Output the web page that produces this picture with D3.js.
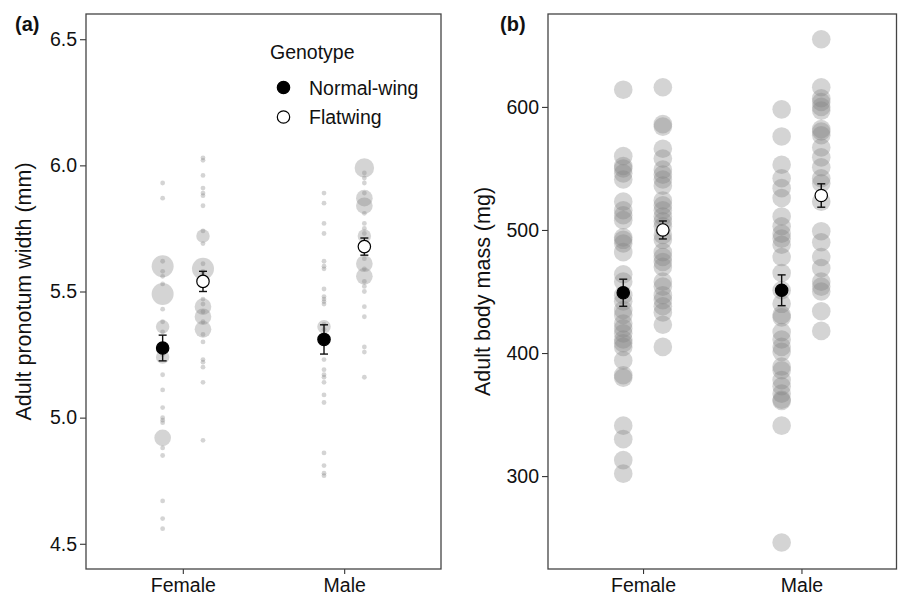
<!DOCTYPE html>
<html>
<head>
<meta charset="utf-8">
<script src="https://cdn.jsdelivr.net/npm/d3@7"></script>
<style>
  html, body { margin: 0; padding: 0; background: #fff; }
  svg { display: block; font-family: "Liberation Sans", Arial, sans-serif; }
</style>
</head>
<body>
<svg id="chart" width="898" height="597"></svg>
<script>
// ---------- data ----------
const categories = ["Female", "Male"];
const genotypes = ["Normal-wing", "Flatwing"];

// Panel (a): adult pronotum width (mm); repeated values = overlapping individuals
const pronotumFemaleNormal = [5.93, 5.87, 5.62, 5.60, 5.60, 5.60, 5.60, 5.60, 5.60, 5.58, 5.56, 5.53,
  5.49, 5.49, 5.49, 5.49, 5.49, 5.49, 5.43, 5.38, 5.36, 5.36, 5.36, 5.34, 5.25, 5.24, 5.24, 5.24,
  5.17, 5.11, 5.04, 5.00, 4.99, 4.98, 4.92, 4.92, 4.92, 4.92, 4.88, 4.85, 4.67, 4.60, 4.56];
const pronotumFemaleFlat = [6.03, 6.02, 5.96, 5.91, 5.89, 5.88, 5.84, 5.74, 5.72, 5.72, 5.72, 5.69,
  5.61, 5.59, 5.59, 5.59, 5.59, 5.59, 5.59, 5.58, 5.57, 5.47, 5.45, 5.44, 5.44, 5.44, 5.44, 5.42,
  5.40, 5.40, 5.40, 5.40, 5.38, 5.35, 5.35, 5.35, 5.35, 5.33, 5.30, 5.23, 5.22, 5.20, 5.14, 4.91];
const pronotumMaleNormal = [5.89, 5.85, 5.77, 5.73, 5.62, 5.60, 5.59, 5.51, 5.48, 5.47, 5.46, 5.45,
  5.37, 5.36, 5.36, 5.36, 5.35, 5.23, 5.19, 5.17, 5.16, 5.14, 5.09, 5.06, 4.86, 4.81, 4.78, 4.77];
const pronotumMaleFlat = [5.99, 5.99, 5.99, 5.99, 5.99, 5.97, 5.95, 5.93, 5.89, 5.87, 5.87, 5.87, 5.87,
  5.84, 5.84, 5.84, 5.84, 5.81, 5.77, 5.75, 5.73, 5.72, 5.72, 5.72, 5.63, 5.61, 5.61, 5.61, 5.61,
  5.59, 5.56, 5.56, 5.56, 5.56, 5.54, 5.52, 5.50, 5.44, 5.40, 5.28, 5.26, 5.16];
// means and standard errors: Female NW, Female FW, Male NW, Male FW
const pronotumMeans = [5.276, 5.540, 5.310, 5.678];
const pronotumSE = [0.051, 0.040, 0.058, 0.034];

// Panel (b): adult body mass (mg)
const massFemaleNormal = [614, 560, 552, 550, 546, 541, 523, 516, 512, 508, 494, 492, 489, 482, 464,
  458, 447, 442, 435, 431, 424, 420, 416, 411, 408, 405, 394, 382, 380, 341, 330, 313, 302];
const massFemaleFlat = [616, 586, 584, 566, 558, 549, 545, 541, 536, 524, 520, 516, 511, 507, 503,
  496, 492, 482, 478, 474, 470, 458, 454, 447, 443, 438, 433, 423, 405];
const massMaleNormal = [598, 576, 553, 542, 534, 526, 511, 503, 497, 493, 488, 478, 465, 451, 440,
  431, 429, 417, 411, 405, 401, 389, 386, 378, 373, 367, 362, 361, 341, 246];
const massMaleFlat = [655, 616, 607, 604, 600, 597, 582, 580, 577, 567, 559, 551, 542, 538, 523,
  499, 490, 478, 469, 458, 454, 450, 434, 418];
const massMeans = [449, 500, 451, 528];
const massSE = [11, 7.3, 12.5, 9.5];

// tick labels
const pronotumTicks = [4.5, 5.0, 5.5, 6.0, 6.5];
const massTicks = [300, 400, 500, 600];

// ---------- drawing ----------
const svg = d3.select("#chart");
const groupKeys = [["Female", "Normal-wing"], ["Female", "Flatwing"], ["Male", "Normal-wing"], ["Male", "Flatwing"]];

function panel(opts) {
  const { left, right, top, bottom, domain, ticks, fmt, raw, means, se, sized, title, tag, titleX, tagX } = opts;
  const g = svg.append("g");
  const x = d3.scalePoint().domain(categories).range([left, right]).padding(0.6);
  const dodge = d3.scalePoint().domain(genotypes).range([-0.125 * x.step(), 0.125 * x.step()]);
  const y = d3.scaleLinear().domain(domain).range([bottom, top]);

  // raw points
  const rScale = d3.scaleSqrt().domain([1, 6]).range([2.4, 11]);
  raw.forEach((vals, i) => {
    const [cat, gen] = groupKeys[i];
    const cx = x(cat) + dodge(gen);
    let pts;
    if (sized) {
      pts = d3.rollups(vals, v => v.length, d => d).map(([v, n]) => ({ v, n }));
      pts.sort((a, b) => b.n - a.n);
    } else {
      pts = vals.map(v => ({ v, n: 1 }));
    }
    g.append("g").selectAll("circle").data(pts).join("circle")
      .attr("cx", cx)
      .attr("cy", d => y(d.v))
      .attr("r", d => sized ? rScale(d.n) : 9.3)
      .attr("fill", "#808080")
      .attr("fill-opacity", 0.34);
  });

  // error bars + means
  const summary = means.map((m, i) => ({ cat: groupKeys[i][0], gen: groupKeys[i][1], m, se: se[i] }));
  const eb = g.append("g").attr("stroke", "#111").attr("stroke-width", 1.4).attr("fill", "none");
  summary.forEach(d => {
    const cx = x(d.cat) + dodge(d.gen);
    eb.append("line").attr("x1", cx).attr("x2", cx).attr("y1", y(d.m - d.se)).attr("y2", y(d.m + d.se));
    eb.append("line").attr("x1", cx - 4).attr("x2", cx + 4).attr("y1", y(d.m - d.se)).attr("y2", y(d.m - d.se));
    eb.append("line").attr("x1", cx - 4).attr("x2", cx + 4).attr("y1", y(d.m + d.se)).attr("y2", y(d.m + d.se));
  });
  g.append("g").selectAll("circle").data(summary).join("circle")
    .attr("cx", d => x(d.cat) + dodge(d.gen))
    .attr("cy", d => y(d.m))
    .attr("r", 6.2)
    .attr("fill", d => d.gen === "Normal-wing" ? "#000" : "#fff")
    .attr("stroke", "#000")
    .attr("stroke-width", 1.2);

  // axes
  const ya = g.append("g").attr("transform", `translate(${left},0)`)
    .call(d3.axisLeft(y).tickValues(ticks).tickFormat(fmt).tickSize(6).tickPadding(3));
  const xa = g.append("g").attr("transform", `translate(0,${bottom})`)
    .call(d3.axisBottom(x).tickSize(5).tickPadding(5));
  [ya, xa].forEach(a => {
    a.select(".domain").remove();
    a.selectAll(".tick line").attr("stroke", "#333").attr("stroke-width", 1.1);
    a.selectAll(".tick text").attr("fill", "#111").style("font-size", "19.5px")
      .style("font-family", "'Liberation Sans', Arial, sans-serif");
  });
  xa.selectAll(".tick text").attr("dy", "0.66em");

  // border
  g.append("rect").attr("x", left).attr("y", top).attr("width", right - left).attr("height", bottom - top)
    .attr("fill", "none").attr("stroke", "#444").attr("stroke-width", 1.3);

  // axis title
  g.append("text")
    .attr("transform", `translate(${titleX},${(top + bottom) / 2}) rotate(-90)`)
    .attr("text-anchor", "middle")
    .style("font-size", "21.5px").attr("fill", "#111")
    .text(title);
  // panel tag
  g.append("text").attr("x", tagX).attr("y", 31)
    .style("font-size", "20px").style("font-weight", "bold").attr("fill", "#111")
    .text(tag);
  return g;
}

const gA = panel({
  left: 86, right: 441, top: 14, bottom: 569, domain: [4.4, 6.6], ticks: pronotumTicks,
  fmt: d3.format(".1f"),
  raw: [pronotumFemaleNormal, pronotumFemaleFlat, pronotumMaleNormal, pronotumMaleFlat],
  means: pronotumMeans, se: pronotumSE, sized: true,
  title: "Adult pronotum width (mm)", tag: "(a)", titleX: 31, tagX: 15
});
panel({
  left: 548, right: 896.5, top: 14, bottom: 569, domain: [224.5, 675.5], ticks: massTicks,
  fmt: d3.format("d"),
  raw: [massFemaleNormal, massFemaleFlat, massMaleNormal, massMaleFlat],
  means: massMeans, se: massSE, sized: false,
  title: "Adult body mass (mg)", tag: "(b)", titleX: 490, tagX: 500
});

// legend (panel a)
const leg = gA.append("g");
leg.append("text").attr("x", 270).attr("y", 59).style("font-size", "19.5px").attr("fill", "#111").text("Genotype");
genotypes.forEach((gname, i) => {
  const cy = 87.5 + i * 29.5;
  leg.append("circle").attr("cx", 283.5).attr("cy", cy).attr("r", 6.2)
    .attr("fill", gname === "Normal-wing" ? "#000" : "#fff").attr("stroke", "#000").attr("stroke-width", 1.2);
  leg.append("text").attr("x", 309).attr("y", cy + 7).style("font-size", "19.5px").attr("fill", "#111").text(gname);
});
</script>
</body>
</html>
